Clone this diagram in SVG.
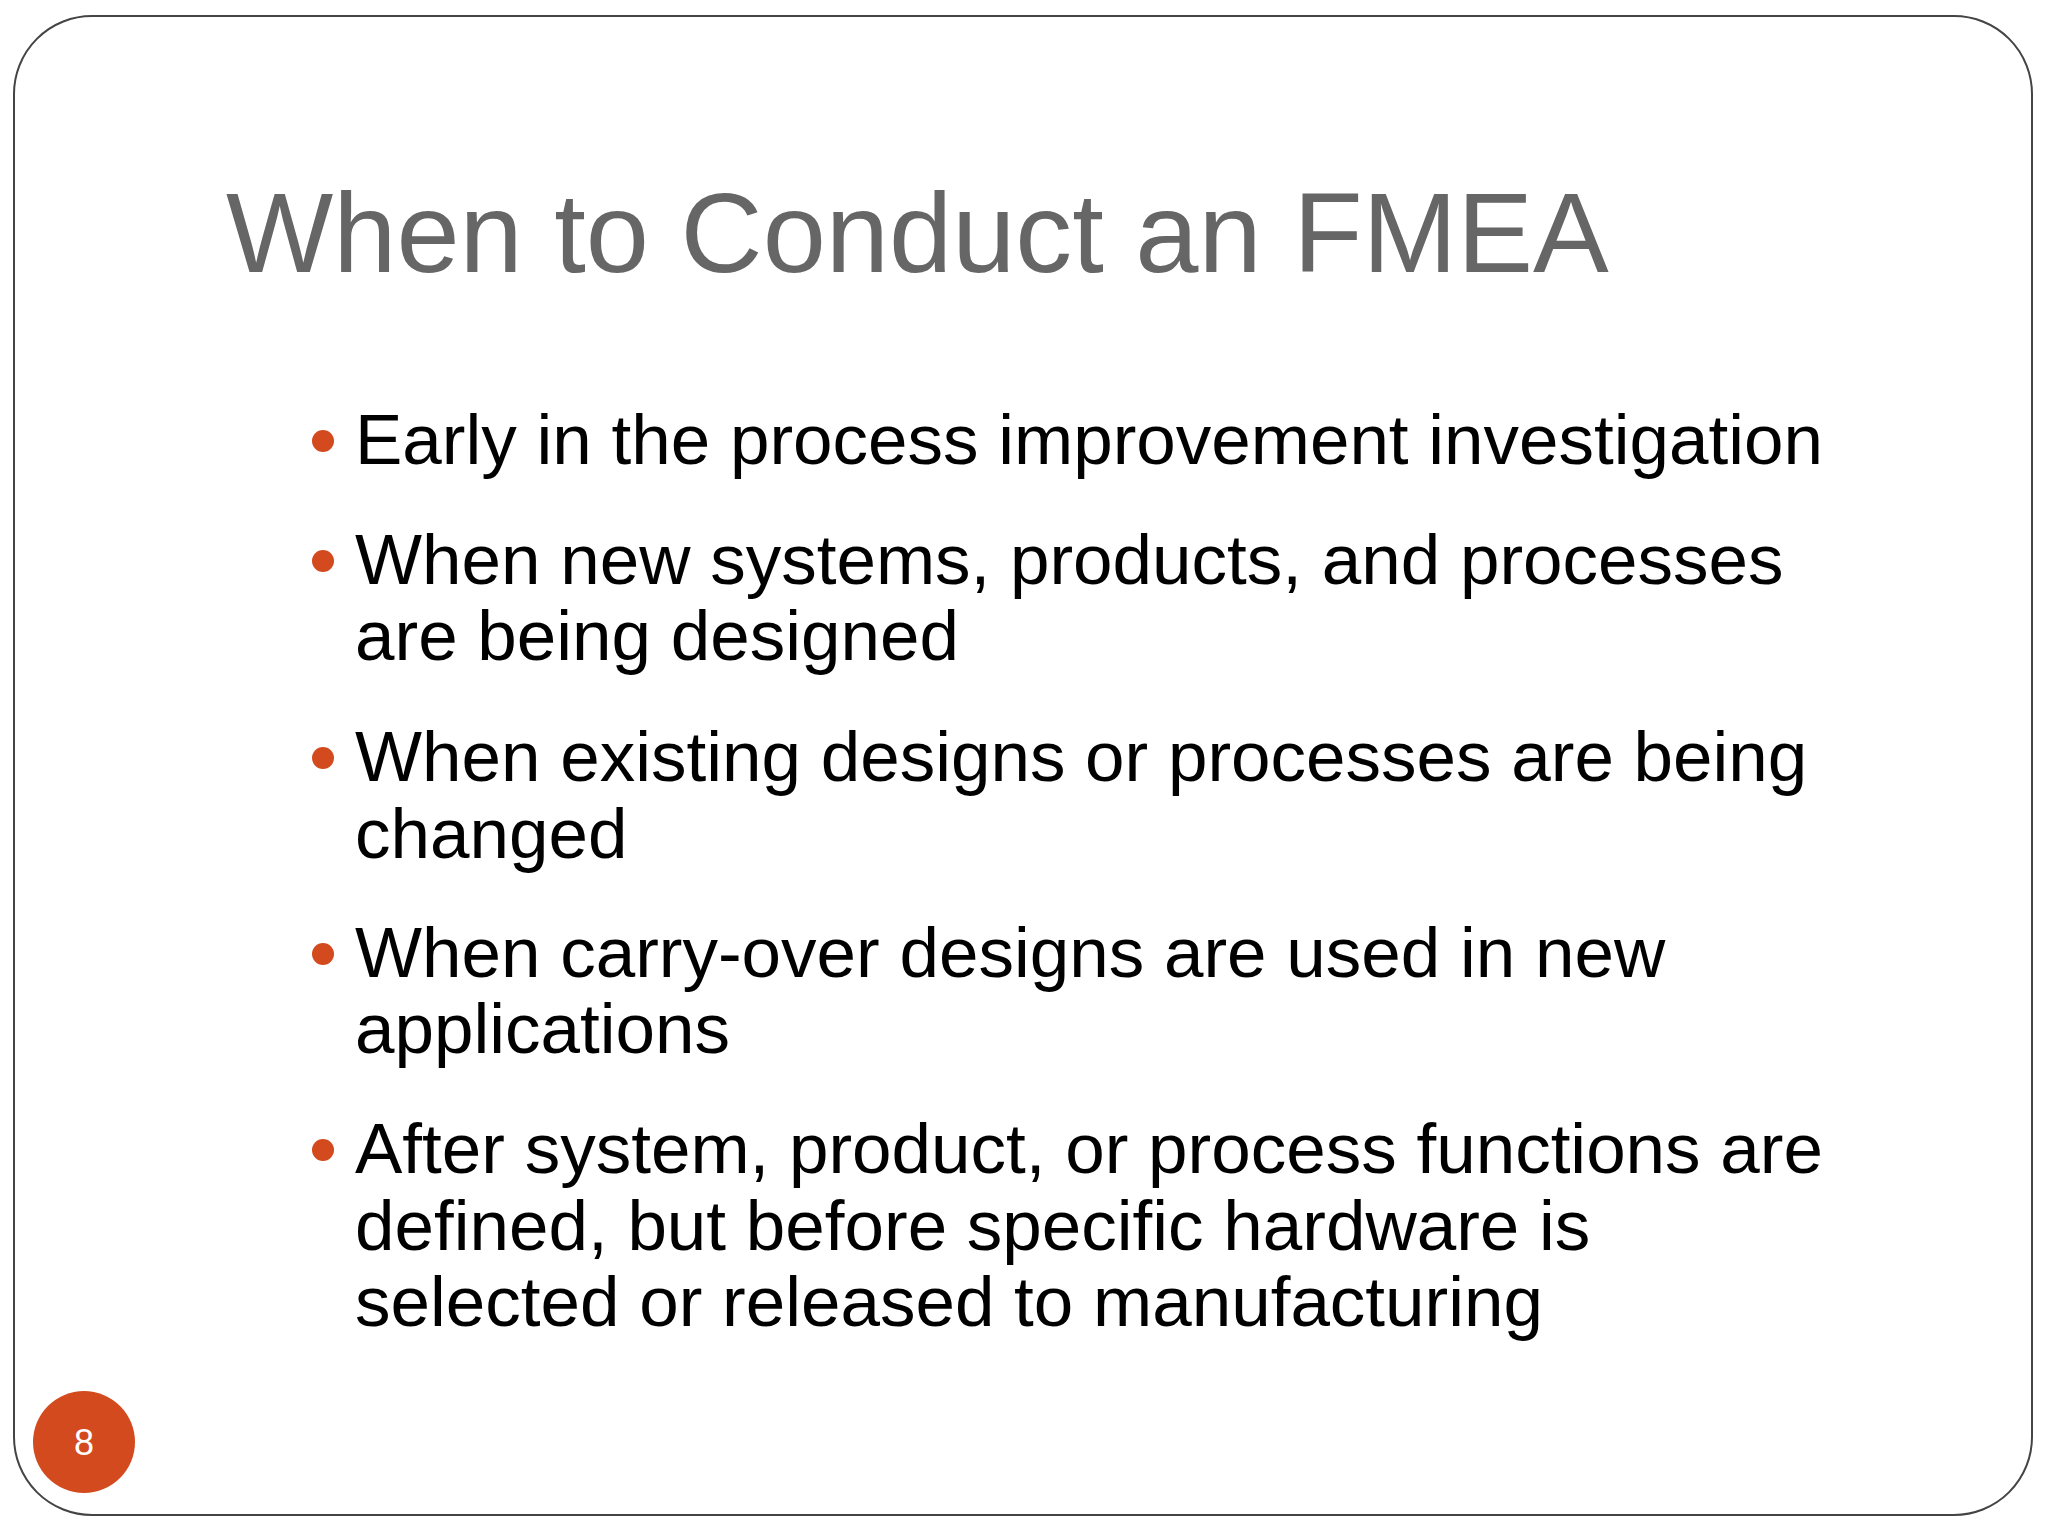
<svg xmlns="http://www.w3.org/2000/svg" width="2048" height="1536" viewBox="0 0 2048 1536">
<style>
.b{font-family:"Liberation Sans",Arial,sans-serif;font-size:71px;fill:#000}
.d{fill:#d24a1e}
</style>
<rect width="2048" height="1536" fill="#fff"/>
<rect x="14" y="16" width="2018" height="1499" rx="78" fill="#fff" stroke="#444" stroke-width="2"/>
<g id="title"><text x="226" y="272" font-family="Liberation Sans,Arial,sans-serif" font-size="113.6" fill="#666">When to Conduct an FMEA</text></g>
<g id="bullets">
<circle class="d" cx="323" cy="441" r="11"/>
<text class="b" x="355" y="464">Early in the process improvement investigation</text>
<circle class="d" cx="323" cy="561" r="11"/>
<text class="b" x="355" y="584">When new systems, products, and processes</text>
<text class="b" x="355" y="660">are being designed</text>
<circle class="d" cx="323" cy="758" r="11"/>
<text class="b" x="355" y="781">When existing designs or processes are being</text>
<text class="b" x="355" y="858">changed</text>
<circle class="d" cx="323" cy="954" r="11"/>
<text class="b" x="355" y="977">When carry-over designs are used in new</text>
<text class="b" x="355" y="1053">applications</text>
<circle class="d" cx="323" cy="1150" r="11"/>
<text class="b" x="355" y="1173">After system, product, or process functions are</text>
<text class="b" x="355" y="1250">defined, but before specific hardware is</text>
<text class="b" x="355" y="1326">selected or released to manufacturing</text>
</g>
<g id="page"><circle cx="84" cy="1442" r="51" fill="#d24a1e"/>
<text x="84" y="1455" text-anchor="middle" font-family="Liberation Sans,Arial,sans-serif" font-size="36" fill="#fff">8</text></g>
</svg>
